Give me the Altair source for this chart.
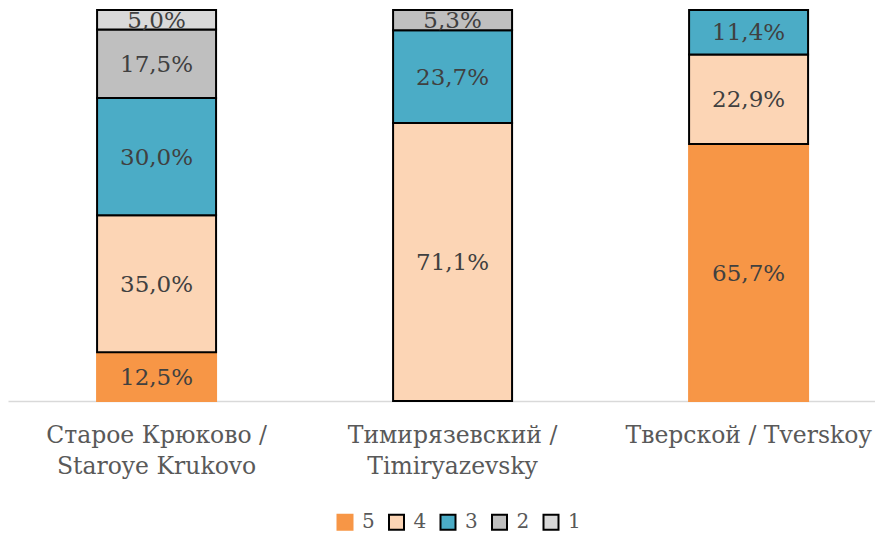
import altair as alt
import pandas as pd

categories = ["Старое Крюково /\nStaroye Krukovo", "Тимирязевский /\nTimiryazevsky", "Тверской / Tverskoy"]
levels = ["5", "4", "3", "2", "1"]
values_5 = [12.5, 0.0, 65.7]
values_4 = [35.0, 71.1, 22.9]
values_3 = [30.0, 23.7, 11.4]
values_2 = [17.5, 5.3, 0.0]
values_1 = [5.0, 0.0, 0.0]
fill_colors = ["#F79646", "#FCD5B5", "#4BACC6", "#BFBFBF", "#D9D9D9"]
stroke_colors = ["#F79646", "#000000", "#000000", "#000000", "#000000"]

series = [values_5, values_4, values_3, values_2, values_1]
rows = []
for li, (lev, vals) in enumerate(zip(levels, series)):
    for ci, cat in enumerate(categories):
        if vals[ci] > 0:
            rows.append({"cat": cat, "level": lev, "ord": li, "value": vals[ci]})
df = pd.DataFrame(rows)

FONT = "DejaVu Serif"

xscale = alt.Scale(domain=categories, paddingInner=0.598, paddingOuter=0.2635, align=0.571)
legend = alt.Legend(
    title=None, orient="none", direction="horizontal", legendX=327, legendY=502,
    symbolType="square", symbolSize=225, symbolStrokeWidth=2,
    labelFont=FONT, labelFontSize=20, labelColor="#595959",
    labelOffset=7, columnPadding=9.5,
)

base = alt.Chart(df).transform_stack(
    stack="value", groupby=["cat"], as_=["y0", "y1"],
    sort=[alt.SortField("ord", order="ascending")],
).transform_calculate(
    mid="(datum.y0 + datum.y1) / 2",
    lab="replace(format(datum.value, '.1f'), '.', ',') + '%'",
)

bars = base.mark_bar(strokeWidth=2).encode(
    x=alt.X("cat:N", scale=xscale, sort=categories, title=None,
            axis=alt.Axis(labelExpr="split(datum.label, '\\n')", labelAngle=0,
                          labelFont=FONT, labelFontSize=23.5, labelColor="#595959",
                          labelLineHeight=31, labelPadding=22, ticks=False,
                          domainColor="#D9D9D9", domainWidth=1.5, labelLimit=400)),
    y=alt.Y("y0:Q", scale=alt.Scale(domain=[0, 100], nice=False, clamp=True), axis=None),
    y2="y1:Q",
    fill=alt.Fill("level:N", scale=alt.Scale(domain=levels, range=fill_colors), legend=legend),
    stroke=alt.Stroke("level:N", scale=alt.Scale(domain=levels, range=stroke_colors), legend=legend),
)

labels = base.mark_text(font=FONT, fontSize=23, color="#404040", baseline="middle", dy=1).encode(
    x=alt.X("cat:N", scale=xscale, sort=categories),
    y=alt.Y("mid:Q", scale=alt.Scale(domain=[0, 100], nice=False)),
    text="lab:N",
)

chart = alt.layer(bars, labels).properties(
    width=867, height=391,
    autosize=alt.AutoSizeParams(type="none"),
    padding={"top": 2, "left": 0, "right": 0, "bottom": 131},
).configure_view(stroke=None).configure_axis(grid=False)

chart.save("out.html", embed_options={"renderer": "svg", "actions": False})
